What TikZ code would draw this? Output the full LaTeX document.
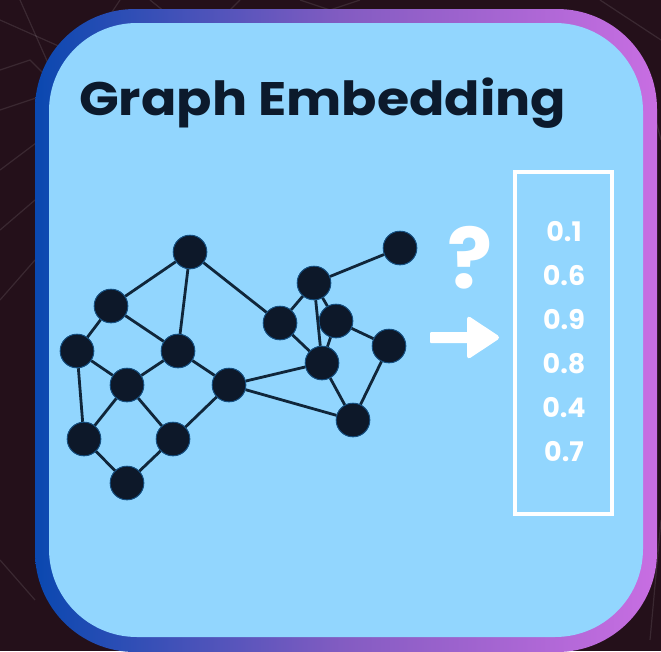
\documentclass[tikz,border=0pt]{standalone}
\usepackage{fontspec}
\setmainfont{Poppins}
\begin{document}
\begin{tikzpicture}[x=1pt,y=-1pt,
  vert/.style={circle,fill=nodeink,draw=nodering,line width=0.6pt,minimum size=34pt,inner sep=0pt},
  link/.style={draw=edgeink,line width=2.8pt},
  vecnum/.style={text=white,font=\fontsize{27}{30}\selectfont\bfseries,inner sep=0pt},
  bgline/.style={draw=white,opacity=0.10,line width=1.2pt}]
\definecolor{bgdark}{RGB}{36,16,26}
\definecolor{cardfill}{RGB}{146,214,254}
\definecolor{rimleft}{RGB}{10,72,176}
\definecolor{rimmid}{RGB}{132,92,194}
\definecolor{rimright}{RGB}{200,110,226}
\definecolor{nodeink}{RGB}{13,24,41}
\definecolor{nodering}{RGB}{22,84,136}
\definecolor{edgeink}{RGB}{16,38,58}
\definecolor{titleink}{RGB}{12,26,44}

% dark textured backdrop
\useasboundingbox (0,0) rectangle (661,651);
\fill[bgdark] (0,0) rectangle (661,651);
\begin{scope}
  \clip (0,0) rectangle (661,651);
  \draw[bgline] (0,20) -- (90,60) -- (40,140) -- (0,170);
  \draw[bgline] (20,0) -- (60,90) -- (0,110);
  \draw[bgline] (120,0) -- (60,90) -- (30,60) -- (0,70);
  \draw[bgline] (240,0) -- (200,40) -- (150,0);
  \draw[bgline] (0,230) -- (35,200);
  \draw[bgline] (0,300) -- (35,260);
  \draw[bgline] (300,0) -- (330,10) -- (360,0);
  \draw[bgline] (600,0) -- (661,40);
  \draw[bgline] (661,140) -- (640,60);
  \draw[bgline] (0,560) -- (35,600);
  \draw[bgline] (661,520) -- (650,640);
\end{scope}

% card with gradient rim
\shade[left color=rimleft,right color=rimright,middle color=rimmid,rounded corners=100pt]
  (35,9) rectangle (657,652);
\fill[cardfill,rounded corners=88pt] (49,23) rectangle (643,637);

% title
\node[anchor=base west,inner sep=0pt,text=titleink,
      font=\fontsize{47}{50}\selectfont\bfseries] (title) at (79,115)
      {\scalebox{1.11}[1]{Graph Embedding}};

% graph vertices
\node[vert] (a) at (190,252) {};
\node[vert] (b) at (111,306) {};
\node[vert] (c) at (77,351) {};
\node[vert] (d) at (178,351) {};
\node[vert] (e) at (127,385) {};
\node[vert] (f) at (229,385) {};
\node[vert] (g) at (84,439) {};
\node[vert] (h) at (173,439) {};
\node[vert] (i) at (127,483) {};
\node[vert] (j) at (280,323) {};
\node[vert] (k) at (314,283) {};
\node[vert] (l) at (400,248) {};
\node[vert] (m) at (336,321) {};
\node[vert] (n) at (322,363) {};
\node[vert] (o) at (389,346) {};
\node[vert] (p) at (353,420) {};

% graph edges
\foreach \u/\v in {a/b,a/d,a/j,b/c,b/d,c/e,c/g,d/e,d/f,e/g,e/h,f/h,g/i,h/i,
                   f/n,f/p,j/k,j/n,k/l,k/n,k/m,m/n,m/o,o/p,n/p}
  \draw[link] (\u) -- (\v);
% vertex discs laid over the edge ends
\foreach \q in {a,b,c,d,e,f,g,h,i,j,k,l,m,n,o,p}
  \filldraw[fill=nodeink,draw=nodering,line width=0.6pt] (\q.center) circle (16.7pt);

% question mark and arrow
\node[text=white,inner sep=0pt,font=\fontsize{84}{90}\selectfont\bfseries] (qm) at (470,258) {?};
\coordinate (arrtail) at (430,337.5);
\fill[white,rounded corners=1pt] (arrtail) ++(0,-5.5) -- (472,332) -- (472,343) -- ++(-42,0) -- cycle;
\fill[white,rounded corners=4pt] (467,315) -- (501,337.5) -- (467,360) -- cycle;

% embedding vector
\draw[white,line width=3.5pt] (515,172) rectangle (612,514);
\node[vecnum] (v1) at (564,232) {0.1};
\node[vecnum] (v2) at (564,276) {0.6};
\node[vecnum] (v3) at (564,320) {0.9};
\node[vecnum] (v4) at (564,364) {0.8};
\node[vecnum] (v5) at (564,408) {0.4};
\node[vecnum] (v6) at (564,452) {0.7};
\end{tikzpicture}
\end{document}
